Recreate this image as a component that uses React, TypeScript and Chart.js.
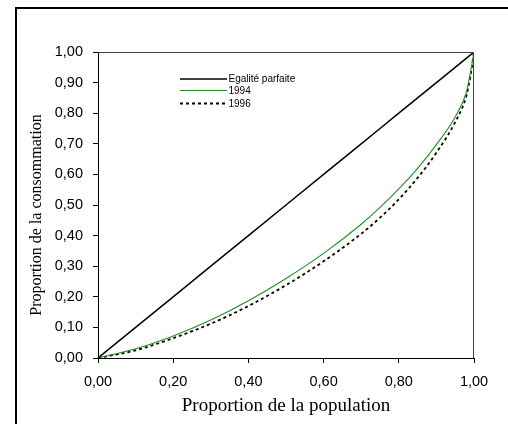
import React, { useEffect, useRef } from "react";
import { Chart, registerables } from "chart.js";

Chart.register(...registerables);

const population: number[] = [0, 0.1, 0.2, 0.3, 0.4, 0.5, 0.6, 0.7, 0.75, 0.8, 0.85, 0.9, 0.95, 0.98, 0.99, 1.0];
const egalite: number[] = [0, 0.1, 0.2, 0.3, 0.4, 0.5, 0.6, 0.7, 0.75, 0.8, 0.85, 0.9, 0.95, 0.98, 0.99, 1.0];
const conso1994: number[] = [0, 0.03, 0.072, 0.124, 0.187, 0.26, 0.342, 0.437, 0.492, 0.553, 0.62, 0.6975, 0.7875, 0.87, 0.93, 1.0];
const conso1996: number[] = [0, 0.025, 0.065, 0.112, 0.17, 0.238, 0.316, 0.406, 0.4585, 0.5185, 0.5885, 0.671, 0.771, 0.858, 0.918, 1.0];
const seriesLabels: string[] = ["Egalité parfaite", "1994", "1996"];
const xTitle = "Proportion de la population";
const yTitle = "Proportion de la consommation";

const fmt = (v: number) => Number(v).toFixed(2).replace(".", ",");

const pts = (ys: number[]) => population.map((x, i) => ({ x, y: ys[i] }));

const GREEN = "#1f8f1f";

const decorPlugin = {
  id: "decor",
  afterDraw(chart: any) {
    const { ctx, chartArea } = chart;
    ctx.save();
    // plot frame (top and right)
    ctx.strokeStyle = "#444";
    ctx.lineWidth = 1;
    ctx.beginPath();
    ctx.moveTo(chartArea.left, chartArea.top + 0.5);
    ctx.lineTo(chartArea.right, chartArea.top + 0.5);
    ctx.moveTo(chartArea.right - 0.5, chartArea.top);
    ctx.lineTo(chartArea.right - 0.5, chartArea.bottom);
    ctx.stroke();
    // outer frame
    ctx.strokeStyle = "#000";
    ctx.lineWidth = 2;
    ctx.beginPath();
    ctx.moveTo(16, chart.height);
    ctx.lineTo(16, 8);
    ctx.lineTo(chart.width, 8);
    ctx.stroke();
    // legend
    const rows = [
      { y: 79, color: "#000", width: 1.5, dash: [] as number[] },
      { y: 90.5, color: GREEN, width: 1.2, dash: [] as number[] },
      { y: 103.5, color: "#000", width: 2, dash: [3, 3] },
    ];
    ctx.font = "10px 'Liberation Sans', Arial, sans-serif";
    ctx.textBaseline = "middle";
    ctx.textAlign = "left";
    rows.forEach((r, i) => {
      ctx.strokeStyle = r.color;
      ctx.lineWidth = r.width;
      ctx.setLineDash(r.dash);
      ctx.beginPath();
      ctx.moveTo(180, r.y);
      ctx.lineTo(227, r.y);
      ctx.stroke();
      ctx.setLineDash([]);
      ctx.fillStyle = "#000";
      ctx.fillText(seriesLabels[i], 228.5, r.y + 0.5);
    });
    ctx.restore();
  },
};

export default function App() {
  const ref = useRef<HTMLCanvasElement | null>(null);
  useEffect(() => {
    document.body.style.margin = "0";
    const canvas = ref.current;
    if (!canvas) return;
    const tickFont = { family: "'Liberation Sans', Arial, sans-serif", size: 14.5 };
    const chart = new Chart(canvas, {
      type: "scatter",
      data: {
        datasets: [
          {
            label: seriesLabels[0],
            data: pts(egalite),
            showLine: true,
            borderColor: "#000",
            borderWidth: 1.5,
            pointRadius: 0,
            fill: false,
          },
          {
            label: seriesLabels[1],
            data: pts(conso1994),
            showLine: true,
            borderColor: GREEN,
            borderWidth: 1.1,
            pointRadius: 0,
            cubicInterpolationMode: "monotone",
            fill: false,
          },
          {
            label: seriesLabels[2],
            data: pts(conso1996),
            showLine: true,
            borderColor: "#000",
            borderWidth: 1.8,
            borderDash: [3, 3],
            pointRadius: 0,
            cubicInterpolationMode: "monotone",
            fill: false,
          },
        ],
      },
      options: {
        responsive: false,
        animation: false,
        devicePixelRatio: 1,
        layout: { padding: { left: 0, top: 52, right: 34, bottom: 0 } },
        plugins: { legend: { display: false }, tooltip: { enabled: false } },
        scales: {
          x: {
            type: "linear",
            min: 0,
            max: 1,
            afterFit: (s: any) => {
              s.height = 66;
            },
            ticks: {
              stepSize: 0.2,
              callback: (v: any) => fmt(v),
              color: "#000",
              font: tickFont,
              padding: 10,
              maxRotation: 0,
            },
            grid: { drawOnChartArea: false, drawTicks: true, tickLength: 5, color: "#000" },
            border: { display: true, color: "#000", width: 1 },
            title: {
              display: true,
              text: xTitle,
              color: "#000",
              font: { family: "'Liberation Serif', 'Times New Roman', serif", size: 19 },
              padding: { top: 0, bottom: 7 },
            },
          },
          y: {
            type: "linear",
            min: 0,
            max: 1,
            afterFit: (s: any) => {
              s.width = 98;
            },
            ticks: {
              stepSize: 0.1,
              callback: (v: any) => fmt(v),
              color: "#000",
              font: tickFont,
              padding: 10,
            },
            grid: { drawOnChartArea: false, drawTicks: true, tickLength: 5, color: "#000" },
            border: { display: true, color: "#000", width: 1 },
            title: {
              display: true,
              text: yTitle + "     ",
              color: "#000",
              font: { family: "'Liberation Serif', 'Times New Roman', serif", size: 16 },
              padding: { top: 27, bottom: 0 },
            },
          },
        },
      },
      plugins: [decorPlugin],
    } as any);
    return () => chart.destroy();
  }, []);
  return <canvas ref={ref} width={508} height={424} style={{ display: "block", width: 508, height: 424 }} />;
}
